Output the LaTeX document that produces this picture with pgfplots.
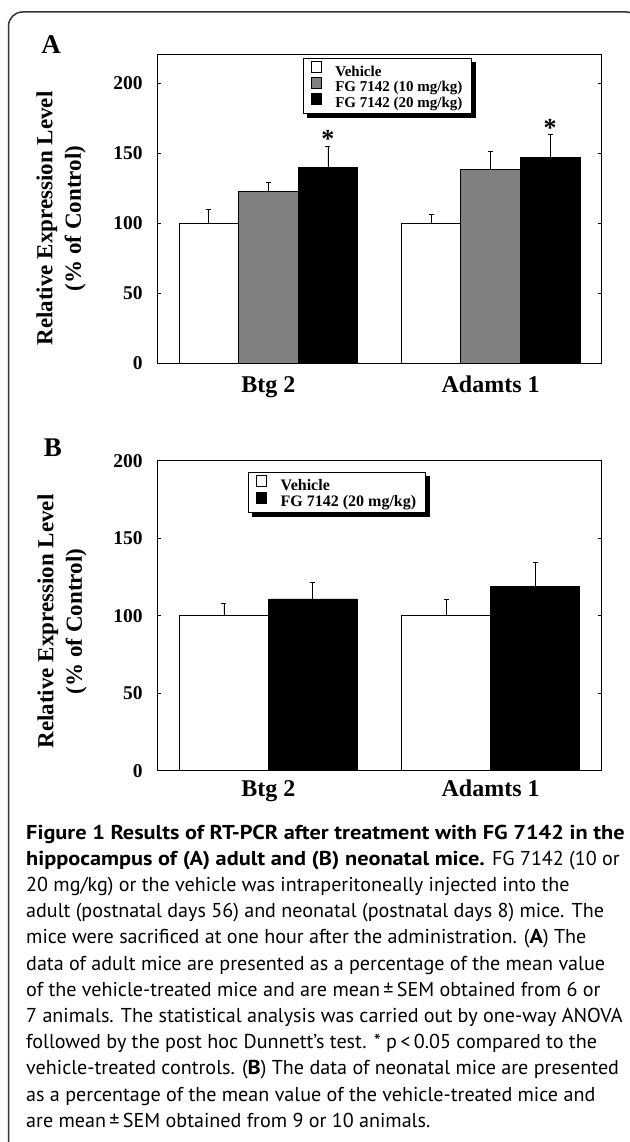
\documentclass[border=0pt]{standalone}
\usepackage{fontspec}
\setmainfont{Liberation Serif}
\newfontfamily\capfont[BoldFeatures={FakeStretch=1.11}]{PT Sans}
\usepackage{pgfplots}
\pgfplotsset{compat=1.18}
\usetikzlibrary{shadows}

\makeatletter
\tikzset{nopre/.code={\let\tikz@preactions\pgfutil@empty}}
\makeatother

\newcommand\capsize{\capfont\fontsize{20.1}{20.1}\selectfont}

\pgfplotsset{
  panel/.style={
    scale only axis, width=444.4pt,
    xmin=-0.5, xmax=1.5, ymin=0,
    xtick={0,1}, xticklabels={Btg 2, Adamts 1},
    xtick style={draw=none},
    ytick={0,50,100,150,200},
    tick align=inside, major tick length=4pt,
    ytick style={black, line width=0.8pt},
    axis line style={black, line width=1pt},
    /pgf/number format/assume math mode=true,
    yticklabel style={font=\fontsize{19.5}{19.5}\selectfont\bfseries, anchor=east, inner sep=0pt, xshift=-14.5pt},
    xticklabel style={font=\fontsize{24}{24}\selectfont\bfseries, anchor=base, inner sep=0pt},
    legend cell align=left,
    legend style={draw=black, line width=0.8pt, fill=white,
      drop shadow={shadow xshift=4pt, shadow yshift=-4pt, fill=black, opacity=1},
      column sep=12pt, inner xsep=8pt, inner ysep=3pt, row sep=-2pt,
      nodes={inner sep=1.5pt}},
    error bars/y dir=plus, error bars/y explicit,
    error bars/error bar style={black, line width=0.8pt},
    error bars/error mark options={rotate=90, black, line width=0.8pt, mark size=2.5pt},
  },
  sq/.style={legend image code/.code={\draw[nopre, ##1, line width=0.8pt] (0pt,-1pt) rectangle (10pt,10pt);}},
}

\begin{document}
\begin{tikzpicture}
\useasboundingbox (0,0) rectangle (629pt,-1142pt);
\draw[line width=1.5pt, draw=black!80, rounded corners=14pt] (8.5pt,-12pt) rectangle (640pt,-1170pt);

% panel A
\node[anchor=base, font=\fontsize{27}{27}\selectfont\bfseries, inner sep=0pt] at (51pt,-54pt) {A};
\node[rotate=90, align=center, font=\fontsize{23}{28.5}\selectfont\bfseries] at (61pt,-218.5pt)
  {Relative Expression Level\\(\% of Control)};
\begin{axis}[panel, at={(157.3pt,-363.5pt)}, anchor=south west,
  height=308.5pt, ymax=220,
  xticklabel style={yshift=-28.5pt},
  legend style={at={(axis description cs:0.327,0.991)}, anchor=north west,
    font=\fontsize{15}{15}\selectfont\bfseries}]
\addplot[ybar, bar width=0.268, bar shift=0, fill=white, draw=black, line width=0.8pt, sq]
  coordinates {(-0.268,100) +- (0,10) (0.732,100) +- (0,6)};
\addplot[ybar, bar width=0.268, bar shift=0, fill=gray, draw=black, line width=0.8pt, sq]
  coordinates {(0,122.4) +- (0,6.6) (1,138.7) +- (0,12.8)};
\addplot[ybar, bar width=0.268, bar shift=0, fill=black, draw=black, line width=0.8pt, sq]
  coordinates {(0.268,139.6) +- (0,15.4) (1.268,147.2) +- (0,15.9)};
\legend{Vehicle, FG 7142 (10 mg/kg), FG 7142 (20 mg/kg)}
\node[font=\fontsize{26}{26}\selectfont\bfseries] at (axis cs:0.268,160) {*};
\node[font=\fontsize{26}{26}\selectfont\bfseries] at (axis cs:1.268,168) {*};
\end{axis}

% panel B
\node[anchor=base, font=\fontsize{27}{27}\selectfont\bfseries, inner sep=0pt] at (53pt,-456pt) {B};
\node[rotate=90, align=center, font=\fontsize{23}{28.5}\selectfont\bfseries] at (62pt,-621.5pt)
  {Relative Expression Level\\(\% of Control)};
\begin{axis}[panel, at={(157.3pt,-770.7pt)}, anchor=south west,
  height=310pt, ymax=200,
  xticklabel style={yshift=-26pt},
  legend style={at={(axis description cs:0.204,0.9635)}, anchor=north west,
    font=\fontsize{16}{16}\selectfont\bfseries}]
\addplot[ybar, bar width=0.4, bar shift=0, fill=white, draw=black, line width=0.8pt, sq]
  coordinates {(-0.2,100) +- (0,7.8) (0.8,100) +- (0,10.8)};
\addplot[ybar, bar width=0.4, bar shift=0, fill=black, draw=black, line width=0.8pt, sq]
  coordinates {(0.2,110.8) +- (0,10.4) (1.2,119.0) +- (0,15.2)};
\legend{Vehicle, FG 7142 (20 mg/kg)}
\end{axis}

% caption
\begin{scope}[every node/.style={anchor=base west, inner sep=0pt, font=\capsize}]
\node at (26pt,-839pt) {\bfseries Figure 1 Results of RT-PCR after treatment with FG 7142 in the};
\node at (26pt,-865.2pt) {\textbf{hippocampus of (A) adult and (B) neonatal mice.} FG 7142 (10 or};
\node at (26pt,-891.4pt) {20 mg/kg) or the vehicle was intraperitoneally injected into the};
\node at (26pt,-917.6pt) {adult (postnatal days 56) and neonatal (postnatal days 8) mice. The};
\node at (26pt,-943.8pt) {mice were sacrificed at one hour after the administration. (\textbf{A}) The};
\node at (26pt,-970pt) {data of adult mice are presented as a percentage of the mean value};
\node at (26pt,-996.2pt) {of the vehicle-treated mice and are mean\,±\,SEM obtained from 6 or};
\node at (26pt,-1022.4pt) {7 animals. The statistical analysis was carried out by one-way ANOVA};
\node at (26pt,-1048.6pt) {followed by the post hoc Dunnett’s test. * p\,<\,0.05 compared to the};
\node at (26pt,-1074.8pt) {vehicle-treated controls. (\textbf{B}) The data of neonatal mice are presented};
\node at (26pt,-1101pt) {as a percentage of the mean value of the vehicle-treated mice and};
\node at (26pt,-1127.2pt) {are mean\,±\,SEM obtained from 9 or 10 animals.};
\end{scope}
\end{tikzpicture}
\end{document}
